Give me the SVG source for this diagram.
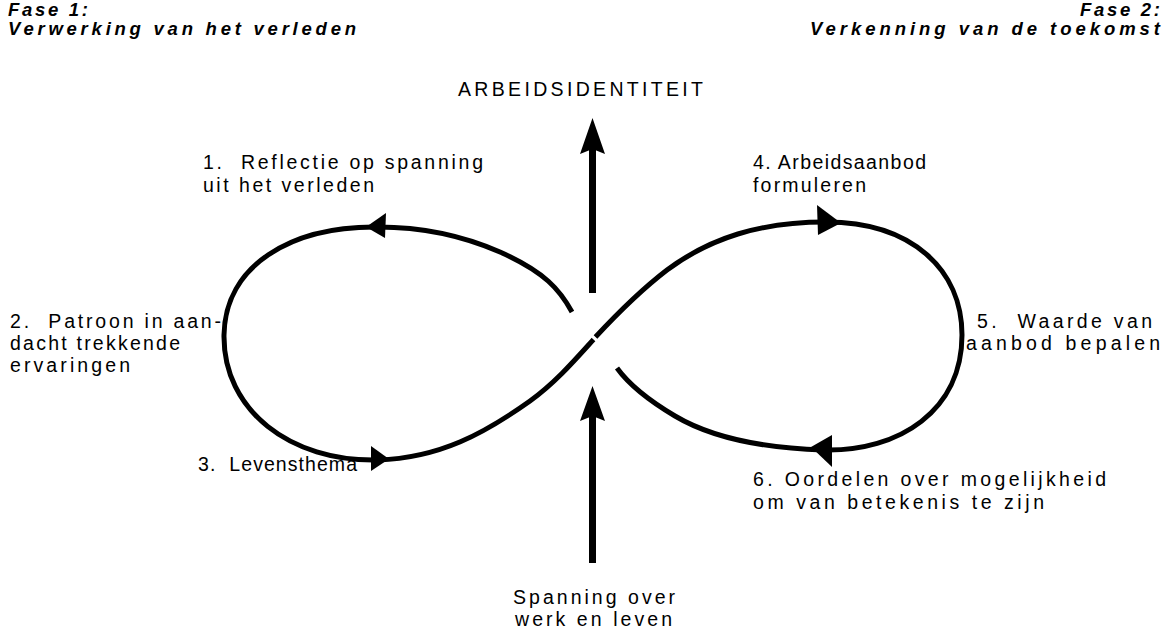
<svg xmlns="http://www.w3.org/2000/svg" width="1170" height="628" viewBox="0 0 1170 628">
  <style>
    .lbl { font-family: "Liberation Sans", Arial, sans-serif; font-size: 19.5px; fill: #000; white-space: pre; }
    .head { font-family: "Liberation Sans", Arial, sans-serif; font-size: 18.5px; font-weight: bold; font-style: italic; fill: #000; white-space: pre; }
    .loop { fill: none; stroke: #000; stroke-width: 5; stroke-linecap: butt; stroke-linejoin: round; }
    .shaft { fill: #000; }
    .head-fill { fill: #000; }
  </style>
  <rect width="1170" height="628" fill="#ffffff"/>

  <!-- phase headings -->
  <g id="phase1">
    <text class="head" x="8" y="16" textLength="80" lengthAdjust="spacing">Fase 1:</text>
    <text class="head" x="8" y="35" textLength="348" lengthAdjust="spacing">Verwerking van het verleden</text>
  </g>
  <g id="phase2">
    <text class="head" x="1080" y="16" textLength="80" lengthAdjust="spacing">Fase 2:</text>
    <text class="head" x="810" y="35" textLength="350" lengthAdjust="spacing">Verkenning van de toekomst</text>
  </g>

  <!-- connectors: figure-eight loop and the two vertical arrows -->
  <g id="connectors">
    <!-- left loop: past -->
    <path class="loop" d="M572,312 C560,290 545,272 500,252 C468,238 430,227 378,227 C290,226 225,266 224,335 C223,410 290,462 378,460 C440,458 485,433 530,401 C555,383 575,360 593.5,339.5"/>
    <!-- right loop: future -->
    <path class="loop" d="M595.5,337 C615,316 637,293 667,270 C710,238 760,222 826,222 C912,222 962,270 962,335 C962,410 900,452 823,450 C760,448 712,438 675,416 C648,400 630,386 617,368"/>
    <!-- loop arrowheads -->
    <polygon class="head-fill" points="366,227 386,213 385,238"/>
    <polygon class="head-fill" points="389,459 371,446 371,471"/>
    <polygon class="head-fill" points="841,223 817,205 818,235"/>
    <polygon class="head-fill" points="811,447 832,435 832,467"/>
    <!-- vertical arrow up to ARBEIDSIDENTITEIT -->
    <rect class="shaft" x="589" y="146" width="7" height="147"/>
    <path class="head-fill" d="M592.5,118 L605,154 L592.5,149 L580,154 Z"/>
    <!-- vertical arrow up from Spanning over werk en leven -->
    <rect class="shaft" x="589" y="414" width="7" height="149"/>
    <path class="head-fill" d="M592.5,386 L605,421 L592.5,416 L580,421 Z"/>
  </g>

  <g id="top-label">
    <text class="lbl" x="458" y="96" textLength="245" lengthAdjust="spacing">ARBEIDSIDENTITEIT</text>
  </g>
  <g id="bottom-label">
    <text class="lbl" x="513" y="604" textLength="162" lengthAdjust="spacing">Spanning over</text>
    <text class="lbl" x="515" y="626" textLength="157" lengthAdjust="spacing">werk en leven</text>
  </g>

  <g id="step1">
    <text class="lbl" x="203" y="169" textLength="280" lengthAdjust="spacing">1.  Reflectie op spanning</text>
    <text class="lbl" x="203" y="192" textLength="171" lengthAdjust="spacing">uit het verleden</text>
  </g>
  <g id="step2">
    <text class="lbl" x="10" y="328" textLength="211" lengthAdjust="spacing">2.  Patroon in aan-</text>
    <text class="lbl" x="10" y="350" textLength="170" lengthAdjust="spacing">dacht trekkende</text>
    <text class="lbl" x="10" y="372" textLength="120" lengthAdjust="spacing">ervaringen</text>
  </g>
  <g id="step3">
    <text class="lbl" x="198" y="471" textLength="159" lengthAdjust="spacing">3.  Levensthema</text>
  </g>
  <g id="step4">
    <text class="lbl" x="753" y="169" textLength="173" lengthAdjust="spacing">4. Arbeidsaanbod</text>
    <text class="lbl" x="753" y="192" textLength="113" lengthAdjust="spacing">formuleren</text>
  </g>
  <g id="step5">
    <text class="lbl" x="977" y="328" textLength="175" lengthAdjust="spacing">5.  Waarde van</text>
    <text class="lbl" x="966" y="350" textLength="194" lengthAdjust="spacing">aanbod bepalen</text>
  </g>
  <g id="step6">
    <text class="lbl" x="753" y="486" textLength="353" lengthAdjust="spacing">6. Oordelen over mogelijkheid</text>
    <text class="lbl" x="753" y="509" textLength="291" lengthAdjust="spacing">om van betekenis te zijn</text>
  </g>
</svg>
